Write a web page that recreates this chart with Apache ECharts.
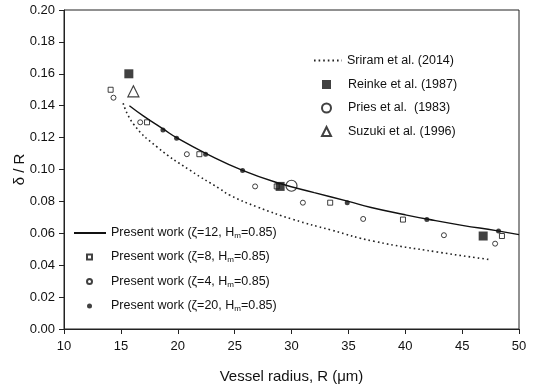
<!DOCTYPE html>
<html>
<head>
<meta charset="utf-8">
<script src="https://cdn.jsdelivr.net/npm/echarts@6/dist/echarts.min.js"></script>
<style>
  html, body { margin: 0; padding: 0; background: #fff; }
  #chart { width: 536px; height: 388px; }
</style>
</head>
<body>
<div id="chart"></div>
<script>
// Present work, zeta=12 (solid curve)
var zeta12R = [15.75, 17, 18.7, 20, 22.5, 25.7, 29, 32, 35, 37, 40, 42, 45, 48, 50];
var zeta12V = [0.140, 0.1335, 0.1255, 0.1195, 0.110, 0.0995, 0.0912, 0.0855, 0.0800, 0.0762, 0.0716, 0.0688, 0.0650, 0.0617, 0.0592];

// Sriram et al. (2014) (dotted curve)
var sriramR = [15.2, 16.1, 18.2, 21.1, 23.7, 24.6, 27, 30.1, 33.5, 37.25, 42.8, 47.45];
var sriramV = [0.1415, 0.1286, 0.114, 0.0994, 0.0879, 0.0838, 0.0765, 0.0688, 0.0620, 0.0550, 0.0483, 0.0435];

// Experimental points
var reinkeR = [15.7, 29.0, 46.85];
var reinkeV = [0.160, 0.0894, 0.0583];
var priesR = [30.0];
var priesV = [0.0898];
var suzukiR = [16.1];
var suzukiV = [0.149];

// Present work scatter sets
var zeta8R = [14.1, 17.3, 21.9, 28.7, 33.4, 39.8, 48.5];
var zeta8V = [0.150, 0.1296, 0.1096, 0.0894, 0.0792, 0.0686, 0.0583];
var zeta4R = [14.35, 16.7, 20.8, 26.8, 31.0, 36.3, 43.4, 47.9];
var zeta4V = [0.145, 0.1296, 0.1096, 0.0894, 0.0792, 0.069, 0.0588, 0.0535];
var zeta20R = [18.7, 19.9, 22.45, 25.7, 34.9, 41.9, 48.2];
var zeta20V = [0.1248, 0.1196, 0.1096, 0.0994, 0.0792, 0.0686, 0.0614];

var N_SRIRAM = 'Sriram et al. (2014)';
var N_REINKE = 'Reinke et al. (1987)';
var N_PRIES = 'Pries et al.  (1983)';
var N_SUZUKI = 'Suzuki et al. (1996)';
var N_Z12 = 'Present work (ζ=12, Hm=0.85)';
var N_Z8 = 'Present work (ζ=8, Hm=0.85)';
var N_Z4 = 'Present work (ζ=4, Hm=0.85)';
var N_Z20 = 'Present work (ζ=20, Hm=0.85)';

function pairs(xs, ys) {
    return xs.map(function (x, i) { return [x, ys[i]]; });
}

var FONT = 'Liberation Sans, Arial, sans-serif';
var INK = '#111';
var LEGEND_FS = 12.5;

var chart = echarts.init(document.getElementById('chart'), null, { renderer: 'canvas' });

function subRich(padLeft) {
    return {
        t: { fontSize: LEGEND_FS, fontFamily: FONT, color: INK, lineHeight: 14 },
        p: { fontSize: LEGEND_FS, fontFamily: FONT, color: INK, lineHeight: 14, padding: [0, 0, 0, padLeft] },
        s: { fontSize: 8, fontFamily: FONT, color: INK, lineHeight: 14, verticalAlign: 'bottom', padding: [6, 0, 0, 0] }
    };
}

// first fragment carries the extra left padding so text lines up with the line rows
function legendFormatter(name) {
    var i = name.indexOf('Hm');
    if (i < 0) return '{p|' + name + '}';
    return '{p|' + name.slice(0, i + 1) + '}{s|m}{t|' + name.slice(i + 2) + '}';
}

function legendBox(names, left, top, w, h, padLeft, hideSymbol) {
    var l = {
        data: names,
        orient: 'vertical',
        left: left,
        top: top,
        padding: 0,
        itemWidth: w,
        itemHeight: h,
        itemGap: 10.5,
        formatter: legendFormatter,
        textStyle: { fontSize: LEGEND_FS, fontFamily: FONT, color: INK, rich: subRich(padLeft) }
    };
    if (hideSymbol) l.itemStyle = { opacity: 0, color: 'transparent', borderWidth: 0 };
    return l;
}

chart.setOption({
    animation: false,
    backgroundColor: '#fff',
    textStyle: { fontFamily: FONT, color: INK },
    grid: {
        left: 64, right: 17, top: 10, bottom: 59,
        outerBoundsMode: 'none',
        show: true, borderColor: '#222', borderWidth: 1
    },
    legend: [
        legendBox([N_SRIRAM], 313, 54, 28, 9, 0, true),
        legendBox([N_REINKE, N_PRIES, N_SUZUKI], 321, 78, 9, 9, 12, false),
        legendBox([N_Z12], 73, 226, 32, 6, 0, true),
        legendBox([N_Z8, N_Z4, N_Z20], 86, 250, 5, 5, 14, false)
    ],
    xAxis: {
        type: 'value',
        min: 10,
        max: 50,
        interval: 5,
        name: 'Vessel radius, R (μm)',
        nameLocation: 'middle',
        nameGap: 40,
        nameMoveOverlap: false,
        nameTextStyle: { fontSize: 15, fontFamily: FONT, color: INK },
        axisLine: { show: true, lineStyle: { color: '#222', width: 1 } },
        axisTick: { show: true, length: 5, lineStyle: { color: '#222' } },
        axisLabel: { fontSize: 13, fontFamily: FONT, color: INK, margin: 11 },
        splitLine: { show: false }
    },
    yAxis: {
        type: 'value',
        min: 0,
        max: 0.2,
        interval: 0.02,
        name: 'δ / R',
        nameLocation: 'middle',
        nameGap: 37,
        nameMoveOverlap: false,
        nameTextStyle: { fontSize: 15, fontFamily: FONT, color: INK },
        axisLine: { show: true, lineStyle: { color: '#222', width: 1 } },
        axisTick: { show: true, length: 5, lineStyle: { color: '#222' } },
        axisLabel: {
            fontSize: 13, fontFamily: FONT, color: INK, margin: 9,
            formatter: function (v) { return v.toFixed(2); }
        },
        splitLine: { show: false }
    },
    series: [
        {
            name: N_SRIRAM,
            type: 'line',
            data: pairs(sriramR, sriramV),
            smooth: true,
            symbol: 'none',
            itemStyle: { color: '#222' },
            lineStyle: { color: '#222', width: 1.6, type: [1.6, 3] }
        },
        {
            name: N_Z12,
            type: 'line',
            data: pairs(zeta12R, zeta12V),
            smooth: true,
            symbol: 'none',
            itemStyle: { color: '#111' },
            lineStyle: { color: '#111', width: 1.4 }
        },
        {
            name: N_Z8,
            type: 'scatter',
            data: pairs(zeta8R, zeta8V),
            symbol: 'rect',
            symbolSize: 5,
            itemStyle: { color: '#fff', borderColor: '#111', borderWidth: 1 }
        },
        {
            name: N_Z4,
            type: 'scatter',
            data: pairs(zeta4R, zeta4V),
            symbol: 'circle',
            symbolSize: 5,
            itemStyle: { color: '#fff', borderColor: '#111', borderWidth: 1 }
        },
        {
            name: N_Z20,
            type: 'scatter',
            data: pairs(zeta20R, zeta20V),
            symbol: 'circle',
            symbolSize: 5,
            itemStyle: { color: '#111' }
        },
        {
            name: N_REINKE,
            type: 'scatter',
            data: pairs(reinkeR, reinkeV),
            symbol: 'rect',
            symbolSize: 9,
            itemStyle: { color: '#111' }
        },
        {
            name: N_PRIES,
            type: 'scatter',
            data: pairs(priesR, priesV),
            symbol: 'circle',
            symbolSize: 11,
            itemStyle: { color: '#fff', borderColor: '#111', borderWidth: 1.2 }
        },
        {
            name: N_SUZUKI,
            type: 'scatter',
            data: pairs(suzukiR, suzukiV),
            symbol: 'triangle',
            symbolSize: 11,
            itemStyle: { color: '#fff', borderColor: '#111', borderWidth: 1.2 }
        }
    ]
});
</script>
</body>
</html>
